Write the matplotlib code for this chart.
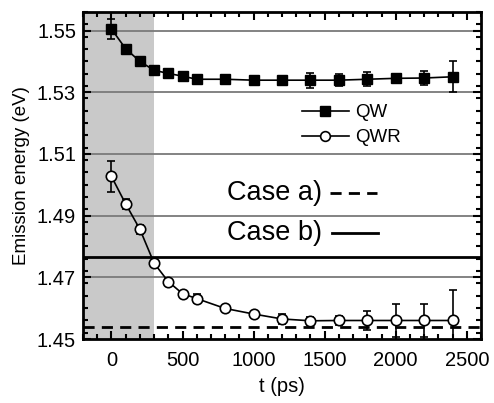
import matplotlib
matplotlib.use("Agg")
import matplotlib.pyplot as plt
from matplotlib.ticker import MultipleLocator
from matplotlib.lines import Line2D

plt.rcParams['font.family'] = ['Liberation Sans', 'DejaVu Sans']

t_ps = [0, 100, 200, 300, 400, 500, 600, 800, 1000, 1200, 1400, 1600, 1800, 2000, 2200, 2400]
qw_energy = [1.5505, 1.5441, 1.5400, 1.5371, 1.5361, 1.5352, 1.5342, 1.5342, 1.5339,
             1.5339, 1.5339, 1.5339, 1.5342, 1.5345, 1.5346, 1.5350]
qw_err = [0.0033, 0.0010, 0.0008, 0.0005, 0.0006, 0.0006, 0.0005, 0.0005, 0.0005,
          0.0006, 0.0024, 0.0020, 0.0022, 0.0015, 0.0023, 0.0050]
qwr_energy = [1.5027, 1.4938, 1.4856, 1.4746, 1.4686, 1.4647, 1.4631, 1.4599, 1.4581,
              1.4565, 1.4559, 1.4560, 1.4560, 1.4560, 1.4560, 1.4560]
qwr_err = [0.0050, 0.0015, 0.0015, 0.0008, 0.0008, 0.0010, 0.0015, 0.0008, 0.0005,
           0.0015, 0.0013, 0.0015, 0.0030, 0.0052, 0.0052, 0.0100]
case_a_level = 1.4540
case_b_level = 1.4766
shade_end = 300
grid_levels = [1.47, 1.49, 1.51, 1.53, 1.55]
ytick_vals = [1.45, 1.47, 1.49, 1.51, 1.53, 1.55]
ytick_labels = ['1.45', '1.47', '1.49', '1.51', '1.53', '1.55']

fig = plt.figure(figsize=(4.94, 4.03), dpi=100)
ax = fig.add_axes([83/494, 1-339/403, (481-83)/494, (339-12)/403])

ax.axvspan(-200, shade_end, color='#c9c9c9', zorder=0, lw=0)
for g in grid_levels:
    ax.axhline(g, color='#7a7a7a', lw=1.3, zorder=1)

ax.axhline(case_b_level, color='black', lw=2.0, zorder=2)
ax.axhline(case_a_level, color='black', lw=2.0, ls=(0, (4, 2.6)), zorder=2)

ax.errorbar(t_ps, qw_energy, yerr=qw_err, color='black', marker='s', ms=7.5,
            mfc='black', mec='black', lw=1.2, capsize=3, elinewidth=1.2,
            capthick=1.2, zorder=4)
ax.errorbar(t_ps, qwr_energy, yerr=qwr_err, color='black', marker='o', ms=7.5,
            mfc='white', mec='black', mew=1.2, lw=1.2, capsize=3, elinewidth=1.2,
            capthick=1.2, zorder=4)

ax.set_xlim(-200, 2600)
ax.set_ylim(1.45, 1.556)
ax.xaxis.set_major_locator(MultipleLocator(500))
ax.xaxis.set_minor_locator(MultipleLocator(100))
ax.yaxis.set_minor_locator(MultipleLocator(0.004))
ax.set_yticks(ytick_vals)
ax.set_yticklabels(ytick_labels)
ax.tick_params(which='both', direction='in', top=True, right=True, labelsize=14.5,
               width=1.5, colors='black')
ax.tick_params(which='major', length=6)
ax.tick_params(axis='x', which='major', pad=9)
ax.tick_params(axis='y', which='major', pad=5)
ax.tick_params(which='minor', length=3.5)
for s in ax.spines.values():
    s.set_linewidth(2)

ax.set_xlabel('t (ps)', fontsize=14.5, labelpad=5)
ax.set_ylabel('Emission energy (eV)', fontsize=13.5, labelpad=5)

handles = [Line2D([], [], color='black', marker='s', ms=7, lw=1.2),
           Line2D([], [], color='black', marker='o', ms=7, mfc='white', mew=1.2, lw=1.2)]
ax.legend(handles, ['QW', 'QWR'], loc='upper left', bbox_to_anchor=(302/494, 1-104/403),
          bbox_transform=fig.transFigure, frameon=False, fontsize=13.5,
          handlelength=2.5, handletextpad=0.35, borderpad=0, borderaxespad=0,
          labelspacing=0.42)

ax.text(227/494, 1-193/403, 'Case a)', transform=fig.transFigure, fontsize=19.5,
        va='center', ha='left')
ax.text(227/494, 1-233/403, 'Case b)', transform=fig.transFigure, fontsize=19.5,
        va='center', ha='left')
ax.plot([330/494, 377/494], [1-193/403, 1-193/403], transform=fig.transFigure,
        color='black', lw=2.0, ls=(0, (4, 2.6)), clip_on=False)
ax.plot([332/494, 378/494], [1-233/403, 1-233/403], transform=fig.transFigure,
        color='black', lw=2.0, clip_on=False)

fig.savefig('out.png', dpi=100)
